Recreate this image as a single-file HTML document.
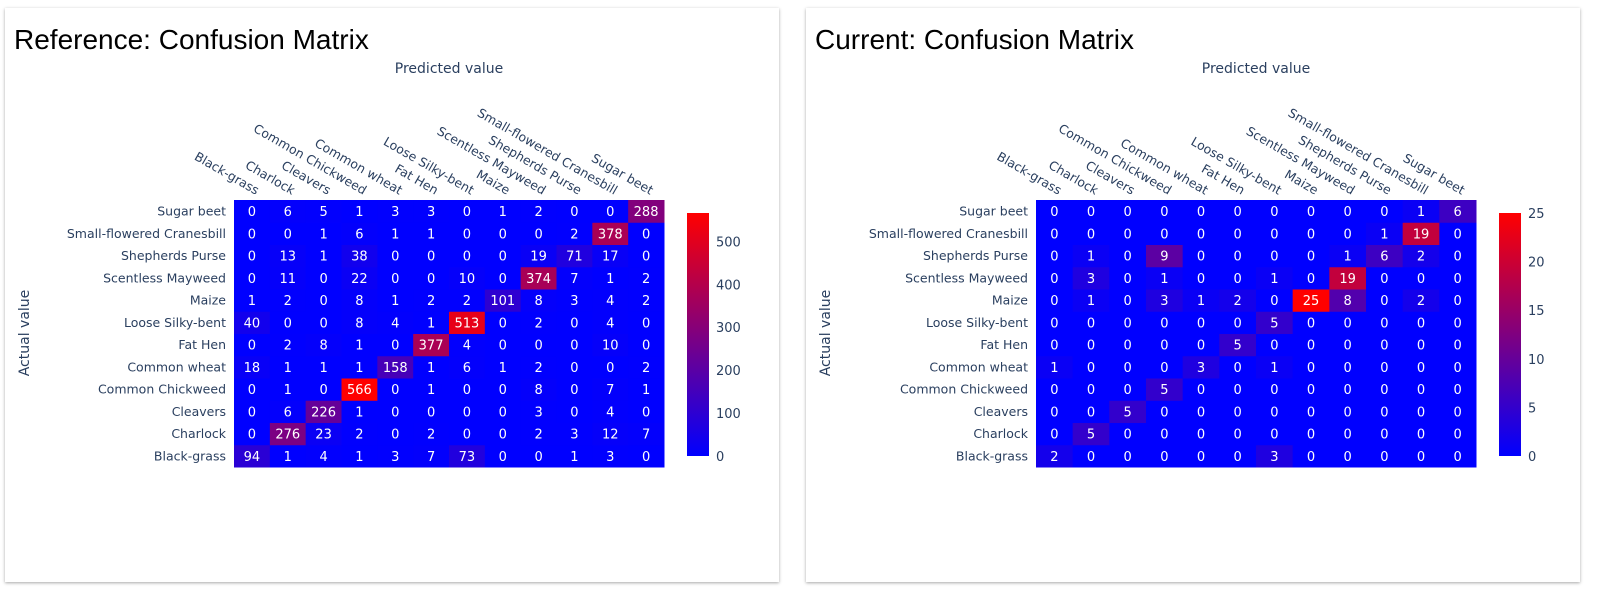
<!DOCTYPE html>
<html><head><meta charset="utf-8"><style>
body{margin:0;width:1600px;height:601px;background:#fff;overflow:hidden;font-family:"Liberation Sans",sans-serif}
.card{position:absolute;top:8px;height:574px;background:#fff;box-shadow:0 1px 3px rgba(0,0,0,.35)}
svg{position:absolute;left:0;top:0}
</style></head><body>
<div class="card" style="left:5px;width:774px"></div>
<div class="card" style="left:806px;width:774px"></div>
<svg id="s" width="1600" height="601" xmlns="http://www.w3.org/2000/svg" font-family="DejaVu Sans, sans-serif"></svg>
<script>
const labels=["Black-grass","Charlock","Cleavers","Common Chickweed","Common wheat","Fat Hen","Loose Silky-bent","Maize","Scentless Mayweed","Shepherds Purse","Small-flowered Cranesbill","Sugar beet"];
// rows from Black-grass (bottom) to Sugar beet (top)
const refValues=[
[94,1,4,1,3,7,73,0,0,1,3,0],
[0,276,23,2,0,2,0,0,2,3,12,7],
[0,6,226,1,0,0,0,0,3,0,4,0],
[0,1,0,566,0,1,0,0,8,0,7,1],
[18,1,1,1,158,1,6,1,2,0,0,2],
[0,2,8,1,0,377,4,0,0,0,10,0],
[40,0,0,8,4,1,513,0,2,0,4,0],
[1,2,0,8,1,2,2,101,8,3,4,2],
[0,11,0,22,0,0,10,0,374,7,1,2],
[0,13,1,38,0,0,0,0,19,71,17,0],
[0,0,1,6,1,1,0,0,0,2,378,0],
[0,6,5,1,3,3,0,1,2,0,0,288]];
const curValues=[
[2,0,0,0,0,0,3,0,0,0,0,0],
[0,5,0,0,0,0,0,0,0,0,0,0],
[0,0,5,0,0,0,0,0,0,0,0,0],
[0,0,0,5,0,0,0,0,0,0,0,0],
[1,0,0,0,3,0,1,0,0,0,0,0],
[0,0,0,0,0,5,0,0,0,0,0,0],
[0,0,0,0,0,0,5,0,0,0,0,0],
[0,1,0,3,1,2,0,25,8,0,2,0],
[0,3,0,1,0,0,1,0,19,0,0,0],
[0,1,0,9,0,0,0,0,1,6,2,0],
[0,0,0,0,0,0,0,0,0,1,19,0],
[0,0,0,0,0,0,0,0,0,0,1,6]];
const refTicks=[0,100,200,300,400,500];
const curTicks=[0,5,10,15,20,25];
const NS="http://www.w3.org/2000/svg";
const svg=document.getElementById('s');
function el(t,a,p){const e=document.createElementNS(NS,t);for(const k in a)e.setAttribute(k,a[k]);(p||svg).appendChild(e);return e;}
function col(t){return `rgb(${Math.round(255*t)},0,${Math.round(255*(1-t))})`;}
function panel(ox,title,vals,ticks,hx0,hx1,name){
  const g=el('g',{});
  
  
  const tt=el('text',{x:ox+9,y:49,'font-size':28,fill:'#000','font-family':'Liberation Sans, sans-serif'},g);tt.textContent=title;
  
  const y0=200,y1=467,n=12,cw=(hx1-hx0)/n,rh=(y1-y0)/n;
  const zmax=Math.max(...vals.flat());
  const px=el('text',{x:(hx0+hx1)/2,y:73,'font-size':14,fill:'#2a3f5f','text-anchor':'middle'},g);px.textContent='Predicted value';
  
  const ay=el('text',{x:0,y:0,'font-size':14,fill:'#2a3f5f','text-anchor':'middle',transform:`translate(${ox+24},333) rotate(-90)`},g);ay.textContent='Actual value';
  
  vals.forEach((row,r)=>{
    const cy=y1-(r+0.5)*rh;
    const yl=el('text',{x:hx0-8,y:cy+4.5,'font-size':12.5,fill:'#2a3f5f','text-anchor':'end'},g);yl.textContent=labels[r];
    
    row.forEach((v,c)=>{
      const x=hx0+c*cw;
      const rc=el('rect',{x:x,y:y1-(r+1)*rh,width:cw+0.5,height:rh+0.5,fill:col(v/zmax)},g);
      
      const t=el('text',{x:x+cw/2,y:cy+5,'font-size':13,fill:'#fff','text-anchor':'middle'},g);t.textContent=v;
      
    });
  });
  labels.forEach((l,c)=>{
    const cx=hx0+(c+0.5)*cw+4;
    const t=el('text',{x:0,y:0,'font-size':12.5,fill:'#2a3f5f','text-anchor':'end',transform:`translate(${cx},195) rotate(30)`},g);t.textContent=l;
    
  });
  const bx=hx1+23,bt=213,bb=456;
  const def=el('defs',{},g);
  const lg=el('linearGradient',{id:'gr'+name,x1:0,y1:1,x2:0,y2:0},def);
  el('stop',{offset:0,'stop-color':col(0)},lg);el('stop',{offset:1,'stop-color':col(1)},lg);
  const cb=el('rect',{x:bx,y:bt,width:22,height:bb-bt,fill:`url(#gr${name})`},g);
  
  ticks.forEach(tv=>{
    const y=bb-(tv/zmax)*(bb-bt);
    const t=el('text',{x:bx+29,y:y+5,'font-size':13,fill:'#2a3f5f'},g);t.textContent=tv;
    
  });
}
panel(5,'Reference: Confusion Matrix',refValues,refTicks,234,664,'reference-heatmap');
panel(806,'Current: Confusion Matrix',curValues,curTicks,1036,1476,'current-heatmap');
</script>
</body></html>
